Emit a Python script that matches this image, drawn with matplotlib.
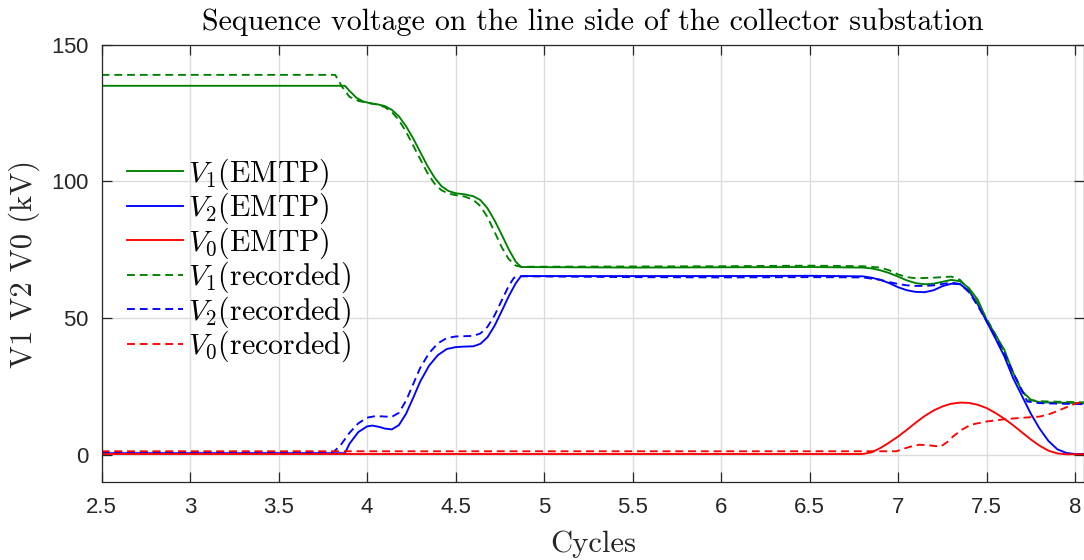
import matplotlib
matplotlib.use("Agg")
import matplotlib.pyplot as plt

plt.rcParams['mathtext.fontset'] = 'cm'
plt.rcParams['axes.formatter.use_mathtext'] = True

# ---- data ----
v1_emtp_x = [2.5, 3.875, 3.9, 3.94, 3.98, 4.02, 4.06, 4.1, 4.14, 4.18, 4.22, 4.26, 4.3, 4.34,
             4.38, 4.42, 4.46, 4.5, 4.55, 4.6, 4.64, 4.68, 4.72, 4.76, 4.8, 4.84, 4.87, 5.5,
             6.0, 6.5, 6.8, 6.85, 6.9, 6.95, 7.0, 7.05, 7.1, 7.15, 7.2, 7.25, 7.3, 7.35, 7.4,
             7.45, 7.5, 7.55, 7.6, 7.65, 7.7, 7.75, 7.8, 8.05]
v1_emtp_y = [135, 135, 133.2, 130.6, 129.2, 128.6, 128.2, 127.6, 126.2, 123.8, 120.2, 115.8,
             110.8, 105.8, 101.5, 98.3, 96.5, 95.7, 95.3, 94.6, 93.2, 90.2, 85.8, 80.6, 75.2,
             70.6, 68.7, 68.5, 68.6, 68.7, 68.5, 68.2, 67.5, 66.5, 65.2, 63.8, 62.8, 62.4,
             62.6, 63.3, 64, 63.5, 61, 56.7, 49.4, 43.9, 38.4, 30, 23.2, 20.2, 19.2, 18.9]

v2_emtp_x = [2.5, 3.875, 3.9, 3.95, 4.0, 4.03, 4.07, 4.1, 4.14, 4.18, 4.22, 4.26, 4.3, 4.35,
             4.4, 4.45, 4.5, 4.55, 4.6, 4.64, 4.68, 4.72, 4.76, 4.8, 4.84, 4.87, 5.5, 6.0, 6.5,
             6.8, 6.85, 6.9, 6.95, 7.0, 7.05, 7.1, 7.15, 7.2, 7.25, 7.3, 7.35, 7.4, 7.45, 7.5,
             7.55, 7.6, 7.65, 7.7, 7.75, 7.8, 7.85, 7.9, 7.95, 8.0, 8.05]
v2_emtp_y = [0.6, 0.6, 4.0, 8.3, 10.4, 10.7, 10.2, 9.6, 9.3, 10.9, 15.0, 20.8, 26.8, 32.6,
             36.5, 38.7, 39.4, 39.6, 39.7, 40.6, 43.0, 47.2, 52.5, 58.0, 62.8, 65.4, 65.4,
             65.4, 65.5, 65.3, 64.8, 64, 62.8, 61.3, 60.2, 59.6, 59.5, 60.2, 61.7, 62.6, 62.4,
             60, 55, 48.8, 42.5, 36, 28, 21.5, 15, 9.5, 5, 2, 0.7, 0.3, 0.3]

v0_emtp_x = [2.5, 6.8, 6.85, 6.9, 6.95, 7.0, 7.05, 7.1, 7.15, 7.2, 7.25, 7.3, 7.35, 7.4, 7.45,
             7.5, 7.55, 7.6, 7.65, 7.7, 7.75, 7.8, 7.85, 7.9, 7.95, 8.05]
v0_emtp_y = [0.3, 0.3, 0.9, 2.5, 4.5, 6.7, 9.2, 11.8, 14.2, 16.2, 17.7, 18.7, 19.1, 19.0, 18.3,
             17.1, 15.3, 13.2, 10.8, 8.2, 5.6, 3.3, 1.5, 0.5, 0.2, 0.2]

v1_rec_x = [2.5, 3.82, 3.86, 3.9, 3.95, 4.0, 4.05, 4.1, 4.14, 4.18, 4.22, 4.26, 4.3, 4.34,
            4.38, 4.42, 4.46, 4.5, 4.55, 4.6, 4.64, 4.68, 4.72, 4.76, 4.8, 4.84, 4.87, 5.5,
            6.0, 6.5, 6.8, 6.9, 6.95, 7.0, 7.05, 7.1, 7.2, 7.3, 7.35, 7.4, 7.45, 7.5, 7.55,
            7.6, 7.65, 7.7, 7.74, 7.8, 8.05]
v1_rec_y = [139, 139, 134.5, 131, 129.5, 128.8, 128.2, 127.2, 125.4, 122.4, 118.2, 113.2,
            108.2, 103.2, 99.3, 96.8, 95.6, 95, 94.5, 93.3, 91.0, 87.0, 81.6, 76.0, 71.6,
            69.2, 68.8, 68.9, 69, 69.2, 69, 68.5, 67.5, 66, 65, 64.6, 64.8, 65.2, 64, 60.5,
            55.5, 49.8, 44, 37.5, 30, 23.5, 20, 19.6, 19.2]

v2_rec_x = [2.5, 3.81, 3.85, 3.9, 3.95, 4.0, 4.05, 4.1, 4.14, 4.18, 4.22, 4.26, 4.3, 4.35, 4.4,
            4.45, 4.5, 4.55, 4.6, 4.64, 4.68, 4.72, 4.76, 4.8, 4.83, 4.87, 5.5, 6.0, 6.5, 6.8,
            6.9, 6.95, 7.0, 7.05, 7.1, 7.15, 7.2, 7.25, 7.3, 7.35, 7.4, 7.45, 7.5, 7.55, 7.6,
            7.65, 7.7, 7.73, 7.8, 8.05]
v2_rec_y = [1.0, 1.0, 3.5, 8, 11.5, 13.6, 14.2, 14.0, 13.9, 15.4, 19.8, 25.8, 31.8, 37.2,
            40.8, 42.7, 43.3, 43.4, 43.5, 44.4, 46.8, 51.0, 56.4, 61.8, 64.8, 65.3, 65, 64.9,
            65, 64.9, 64, 63.2, 62.5, 62, 61.8, 61.8, 62, 62.5, 63, 62.5, 59.5, 54.5, 48.8,
            43, 37, 30, 23.5, 19.5, 18.9, 18.5]

v0_rec_x = [2.5, 6.99, 7.03, 7.07, 7.12, 7.17, 7.24, 7.28, 7.31, 7.36, 7.41, 7.5, 7.6, 7.67,
            7.8, 7.85, 7.9, 7.95, 8.0, 8.05]
v0_rec_y = [1.3, 1.3, 2.2, 3.0, 3.7, 3.5, 3.0, 4.8, 6.7, 9.2, 11.0, 12.2, 13.0, 13.4, 14.0,
            14.8, 16.0, 17.4, 18.7, 19.5]

x_ticks = [2.5, 3, 3.5, 4, 4.5, 5, 5.5, 6, 6.5, 7, 7.5, 8]
x_tick_labels = ['2.5', '3', '3.5', '4', '4.5', '5', '5.5', '6', '6.5', '7', '7.5', '8']
y_ticks = [0, 50, 100, 150]

title = 'Sequence voltage on the line side of the collector substation'
labels = [r'$V_1$(EMTP)', r'$V_2$(EMTP)', r'$V_0$(EMTP)',
          r'$V_1$(recorded)', r'$V_2$(recorded)', r'$V_0$(recorded)']

# ---- figure ----
fig = plt.figure(figsize=(10.84, 5.6), dpi=100)
ax = fig.add_axes([0.0937, 0.139, 0.9063, 0.781])

green, blue, red = '#008000', '#0000ff', '#ff0000'
lw = 1.35
dash = (0, (4.2, 2.6))
ax.plot(v1_emtp_x, v1_emtp_y, color=green, lw=lw, label=labels[0])
ax.plot(v2_emtp_x, v2_emtp_y, color=blue, lw=lw, label=labels[1])
ax.plot(v0_emtp_x, v0_emtp_y, color=red, lw=lw, label=labels[2])
ax.plot(v1_rec_x, v1_rec_y, color=green, lw=lw, ls=dash, label=labels[3])
ax.plot(v2_rec_x, v2_rec_y, color=blue, lw=lw, ls=dash, label=labels[4])
ax.plot(v0_rec_x, v0_rec_y, color=red, lw=lw, ls=dash, label=labels[5])

ax.set_xlim(2.5, 8.05)
ax.set_ylim(-10, 150)
ax.set_xticks(x_ticks)
ax.set_xticklabels(x_tick_labels)
ax.set_yticks(y_ticks)

axc = '#262626'
for s in ax.spines.values():
    s.set_color(axc)
    s.set_linewidth(0.9)
ax.tick_params(direction='in', length=7, width=0.9, color=axc, labelcolor=axc,
               top=True, right=True, labelsize=16)
ax.tick_params(axis='x', pad=11)
ax.tick_params(axis='y', pad=9)
for t in ax.get_xticklabels() + ax.get_yticklabels():
    t.set_fontfamily('Liberation Sans')

ax.grid(True, color='#dcdcdc', lw=1.0)
ax.set_axisbelow(True)

ax.set_title(title, fontfamily='cmr10', fontsize=21.5, color='black', pad=11)
ax.set_xlabel('Cycles', fontfamily='cmr10', fontsize=22, color=axc, labelpad=9)
ax.set_ylabel('V1 V2 V0 (kV)', fontfamily='cmr10', fontsize=22, color=axc, labelpad=8)

leg = ax.legend(loc='upper left', bbox_to_anchor=(0.026, 0.745), frameon=False,
                borderaxespad=0, borderpad=0, handlelength=1.87, handletextpad=0.17,
                labelspacing=-0.03, prop={'family': 'cmr10', 'size': 21.5})

fig.savefig('out.png', dpi=100)
